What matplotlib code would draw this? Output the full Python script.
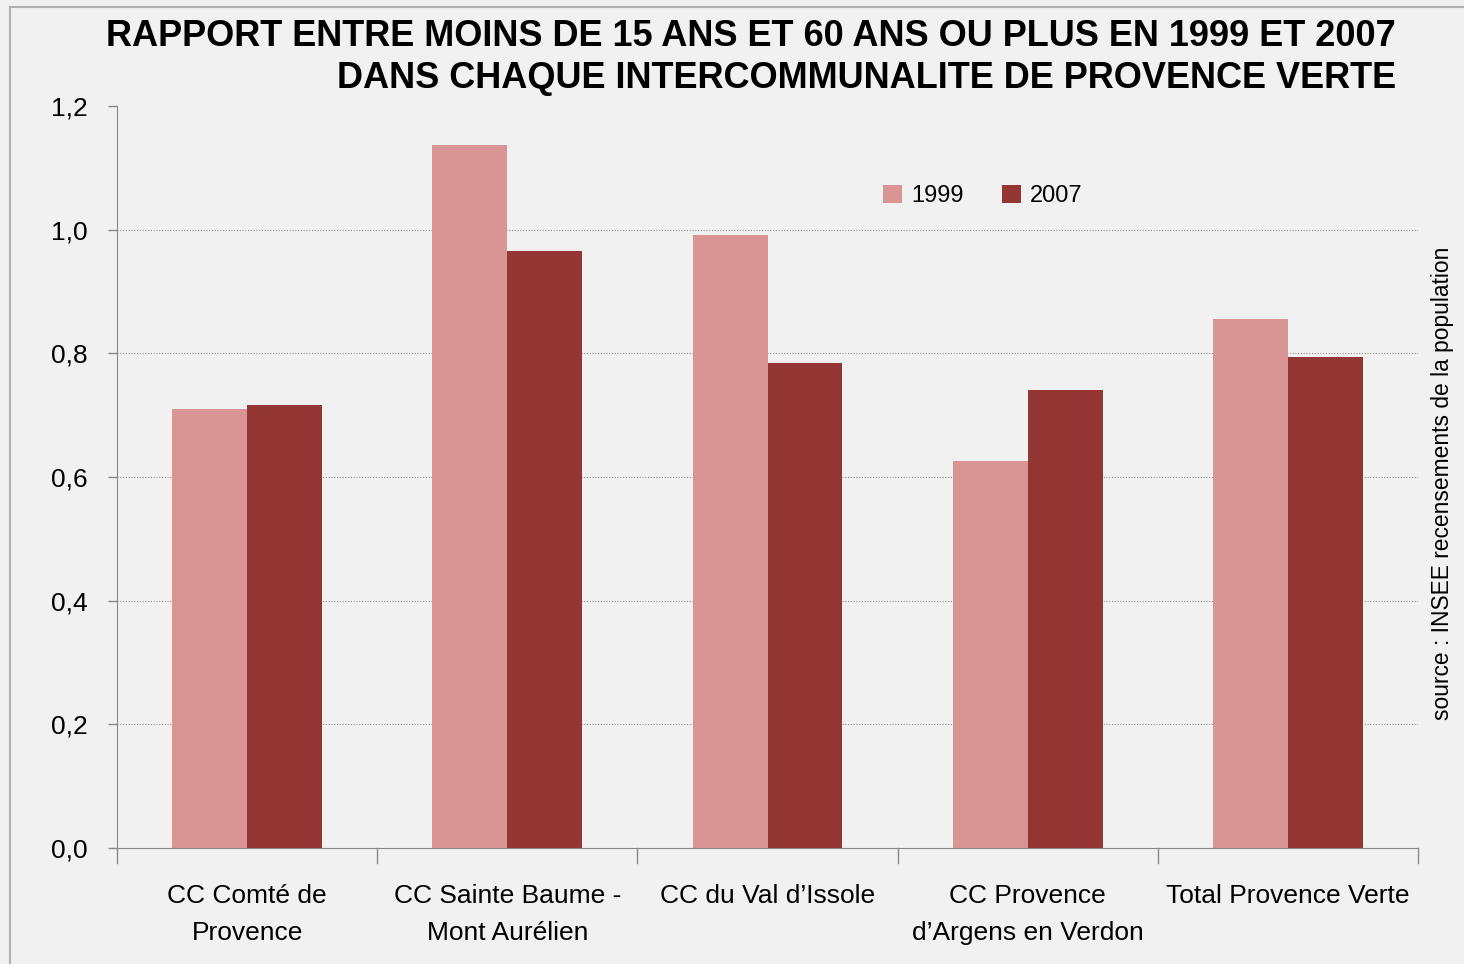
import matplotlib
matplotlib.use("Agg")
import matplotlib.pyplot as plt
import numpy as np

categories = ["CC Comté de\nProvence", "CC Sainte Baume -\nMont Aurélien", "CC du Val d\u2019Issole",
              "CC Provence\nd\u2019Argens en Verdon", "Total Provence Verte"]
v1999 = [0.710, 1.137, 0.991, 0.626, 0.856]
v2007 = [0.716, 0.966, 0.784, 0.741, 0.794]
yticks = [0.0, 0.2, 0.4, 0.6, 0.8, 1.0, 1.2]
ytick_labels = ["0,0", "0,2", "0,4", "0,6", "0,8", "1,0", "1,2"]
series_names = ["1999", "2007"]

font = "Liberation Sans"
bg = "#f1f1f1"
c1, c2 = "#d99594", "#943634"

fig = plt.figure(figsize=(14.64, 9.64), dpi=100, facecolor=bg)
ax = fig.add_axes([117/1464, 1-848/964, (1418-117)/1464, (848-106)/964])
ax.set_facecolor(bg)

x = np.arange(len(categories))
w = 0.288
ax.bar(x - w/2, v1999, width=w, color=c1, label=series_names[0], zorder=3)
ax.bar(x + w/2, v2007, width=w, color=c2, label=series_names[1], zorder=3)

ax.set_xlim(-0.5, len(categories) - 0.5)
ax.set_ylim(0, 1.2)
ax.set_yticks(yticks)
ax.set_yticklabels(ytick_labels, fontfamily=font, fontsize=19)
for yv in yticks[1:-1]:
    ax.axhline(yv, color="#909090", lw=0.8, ls=(0, (1, 1.5)), zorder=1)

ax.set_xticks(x)
ax.set_xticklabels(categories, fontfamily=font, fontsize=19, linespacing=1.7)
ax.tick_params(axis="x", length=0, pad=26)
ax.tick_params(axis="y", length=6.5, width=1, color="#888888", pad=14.5)
for b in np.arange(-0.5, len(categories), 1.0):
    ax.plot([b, b], [0, -0.024], color="#888888", lw=1, clip_on=False)

for s in ["top", "right"]:
    ax.spines[s].set_visible(False)
ax.spines["left"].set_color("#888888")
ax.spines["bottom"].set_color("#888888")
ax.spines["left"].set_zorder(4)
ax.spines["bottom"].set_zorder(4)

ax.legend(loc="center", bbox_to_anchor=((983-117)/1301, (848-196)/742), ncol=2,
          frameon=False, prop={"family": font, "size": 17},
          handlelength=0.8, handleheight=0.8, handletextpad=0.4, columnspacing=1.6)

fig.text(1396/1464, 1-37/964, "RAPPORT ENTRE MOINS DE 15 ANS ET 60 ANS OU PLUS EN 1999 ET 2007",
         ha="right", va="center", fontsize=26, fontweight="bold", fontfamily=font)
fig.text(1396/1464, 1-78/964, "DANS CHAQUE INTERCOMMUNALITE DE PROVENCE VERTE",
         ha="right", va="center", fontsize=26, fontweight="bold", fontfamily=font)
fig.text(1443/1464, 1-483/964, "source : INSEE recensements de la population", rotation=90,
         ha="center", va="center", fontsize=16.4, fontfamily=font)

fig.add_artist(plt.Line2D([10/1464, 10/1464], [0, 1-7/964], color="#b0b0b0", lw=1.5, transform=fig.transFigure))
fig.add_artist(plt.Line2D([10/1464, 1], [1-7/964, 1-7/964], color="#b0b0b0", lw=1.5, transform=fig.transFigure))

fig.savefig("out.png", dpi=100, facecolor=bg)
